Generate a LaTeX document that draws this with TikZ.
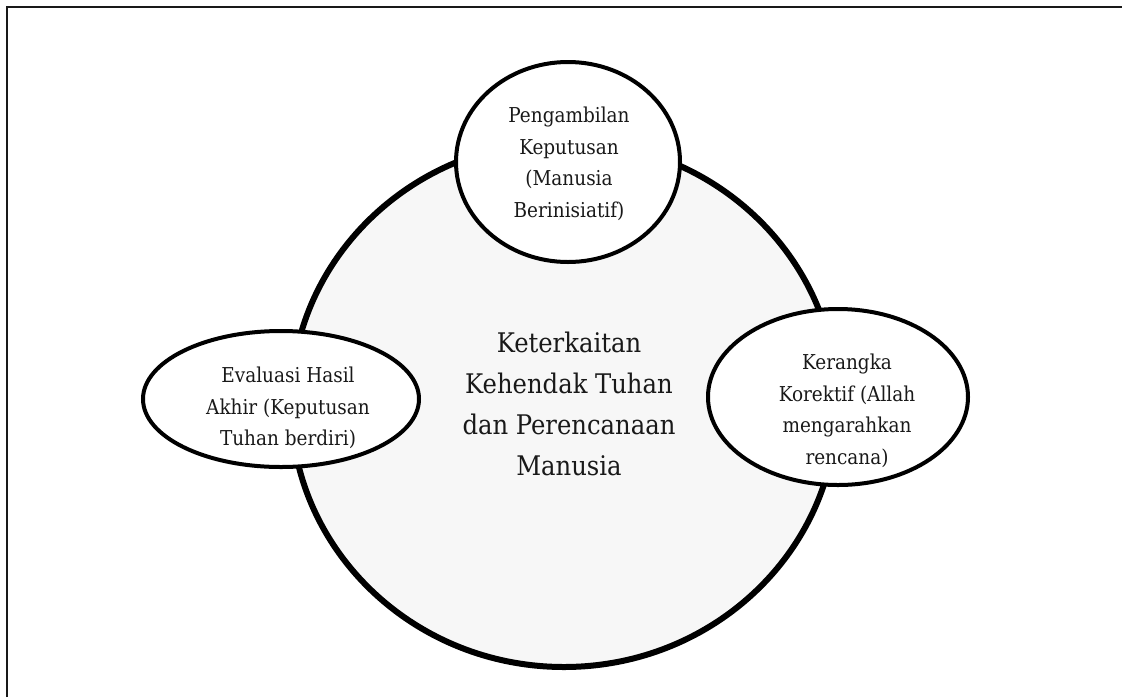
\documentclass[tikz,border=0pt]{standalone}
\usepackage{fontspec}
\setmainfont{DejaVu Serif Condensed}
\usetikzlibrary{shapes.geometric}
\begin{document}
\begin{tikzpicture}[x=1pt,y=-1pt,
  bigshape/.style={ellipse,draw=black,line width=6pt,fill=black!3,inner sep=0pt},
  smallshape/.style={ellipse,draw=black,line width=4pt,fill=white,inner sep=0pt},
  smalltext/.style={align=center,inner sep=0pt,font=\fontsize{20.5}{31.5}\selectfont,text=black!90},
  bigtext/.style={align=center,inner sep=0pt,font=\fontsize{27}{41}\selectfont,text=black!90},
  frameline/.style={line width=2pt,draw=black!90}]
\useasboundingbox (0,0) rectangle (1122,697);
\coordinate (fbl) at (7,697);
\coordinate (ftl) at (7,7);
\coordinate (ftr) at (1122,7);
\draw[frameline] (fbl) -- (ftl) -- (ftr);
\node[bigshape,minimum width=546pt,minimum height=526pt] (big) at (564,404) {};
\node[bigtext] (bigl) at (569,404) {Keterkaitan\\Kehendak Tuhan\\dan Perencanaan\\Manusia};
\node[smallshape,minimum width=224pt,minimum height=200pt] (top) at (568,162) {};
\node[smalltext] (topl) at (569,164) {Pengambilan\\Keputusan\\(Manusia\\Berinisiatif)};
\node[smallshape,minimum width=276pt,minimum height=136pt] (left) at (281,399) {};
\node[smalltext] (leftl) at (288,408) {Evaluasi Hasil\\Akhir (Keputusan\\Tuhan berdiri)};
\node[smallshape,minimum width=260pt,minimum height=176pt] (right) at (838,397) {};
\node[smalltext] (rightl) at (847,411) {Kerangka\\Korektif (Allah\\mengarahkan\\rencana)};
\end{tikzpicture}
\end{document}
